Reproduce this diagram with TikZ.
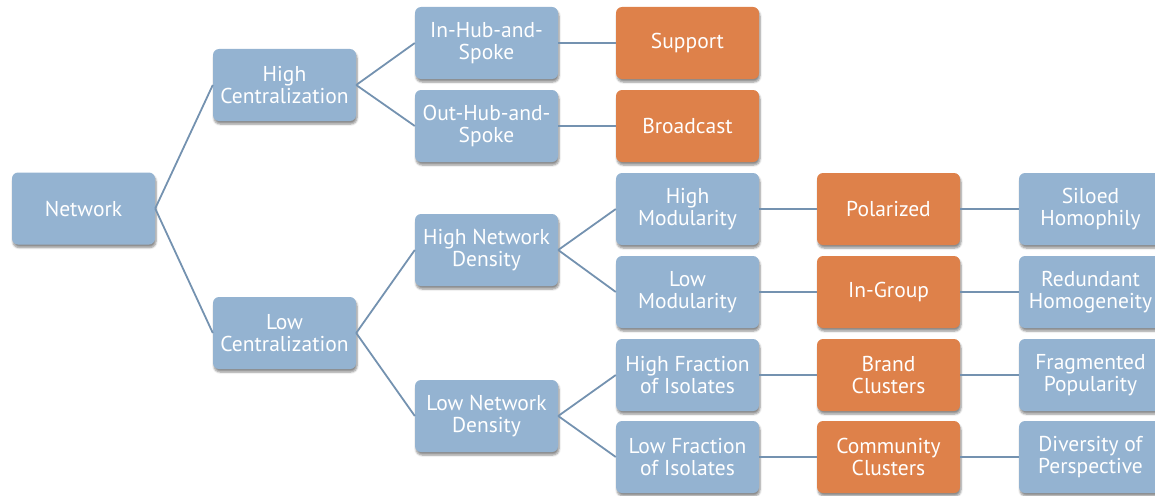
\documentclass[tikz,border=0pt]{standalone}
\usepackage{fontspec}
\setmainfont{PT Sans}
\usetikzlibrary{shadows.blur}
\definecolor{boxblue}{RGB}{148,179,209}
\definecolor{boxorange}{RGB}{222,129,74}
\definecolor{linkcol}{RGB}{116,146,176}
\tikzset{
  base/.style={rounded corners=6pt, minimum width=143pt, minimum height=72pt,
    inner sep=1pt, align=center, text=white, font=\fontsize{21.5}{22.5}\selectfont,
    blur shadow={shadow xshift=1pt, shadow yshift=-3pt, shadow blur steps=6, shadow opacity=45}},
  bluebox/.style={base, fill=boxblue},
  orangebox/.style={base, fill=boxorange},
  link/.style={draw=linkcol, line width=1.8pt}
}
\begin{document}
\begin{tikzpicture}[x=1pt,y=-1pt]
\useasboundingbox (0,0) rectangle (1155,495);
\node[bluebox] (net) at (83.5,208.5) {Network};
\node[bluebox] (hc) at (284.5,85) {High\\Centralization};
\node[bluebox] (lc) at (284.5,333) {Low\\Centralization};
\node[bluebox] (ih) at (486.5,43) {In-Hub-and-\\Spoke};
\node[bluebox] (oh) at (486.5,126) {Out-Hub-and-\\Spoke};
\node[orangebox] (sup) at (687.5,43) {Support};
\node[orangebox] (bc) at (687.5,126) {Broadcast};
\node[bluebox] (hnd) at (486.5,250) {High Network\\Density};
\node[bluebox] (lnd) at (486.5,416) {Low Network\\Density};
\node[bluebox] (hm) at (687.5,209) {High\\Modularity};
\node[bluebox] (lm) at (687.5,292) {Low\\Modularity};
\node[bluebox] (hf) at (687.5,375) {High Fraction\\of Isolates};
\node[bluebox] (lf) at (687.5,457) {Low Fraction\\of Isolates};
\node[orangebox] (pol) at (888.5,209) {Polarized};
\node[orangebox] (ing) at (888.5,292) {In-Group};
\node[orangebox] (brc) at (888.5,375) {Brand\\Clusters};
\node[orangebox] (coc) at (888.5,457) {Community\\Clusters};
\node[bluebox] (sh) at (1090.5,209) {Siloed\\Homophily};
\node[bluebox] (rh) at (1090.5,292) {Redundant\\Homogeneity};
\node[bluebox] (fp) at (1090.5,375) {Fragmented\\Popularity};
\node[bluebox] (dp) at (1090.5,457) {Diversity of\\Perspective};
\draw[link] (net.east) -- (hc.west);
\draw[link] (net.east) -- (lc.west);
\draw[link] (hc.east) -- (ih.west);
\draw[link] (hc.east) -- (oh.west);
\draw[link] (ih.east) -- (sup.west);
\draw[link] (oh.east) -- (bc.west);
\draw[link] (lc.east) -- (hnd.west);
\draw[link] (lc.east) -- (lnd.west);
\draw[link] (hnd.east) -- (hm.west);
\draw[link] (hnd.east) -- (lm.west);
\draw[link] (lnd.east) -- (hf.west);
\draw[link] (lnd.east) -- (lf.west);
\draw[link] (hm.east) -- (pol.west);
\draw[link] (lm.east) -- (ing.west);
\draw[link] (hf.east) -- (brc.west);
\draw[link] (lf.east) -- (coc.west);
\draw[link] (pol.east) -- (sh.west);
\draw[link] (ing.east) -- (rh.west);
\draw[link] (brc.east) -- (fp.west);
\draw[link] (coc.east) -- (dp.west);
\end{tikzpicture}
\end{document}
